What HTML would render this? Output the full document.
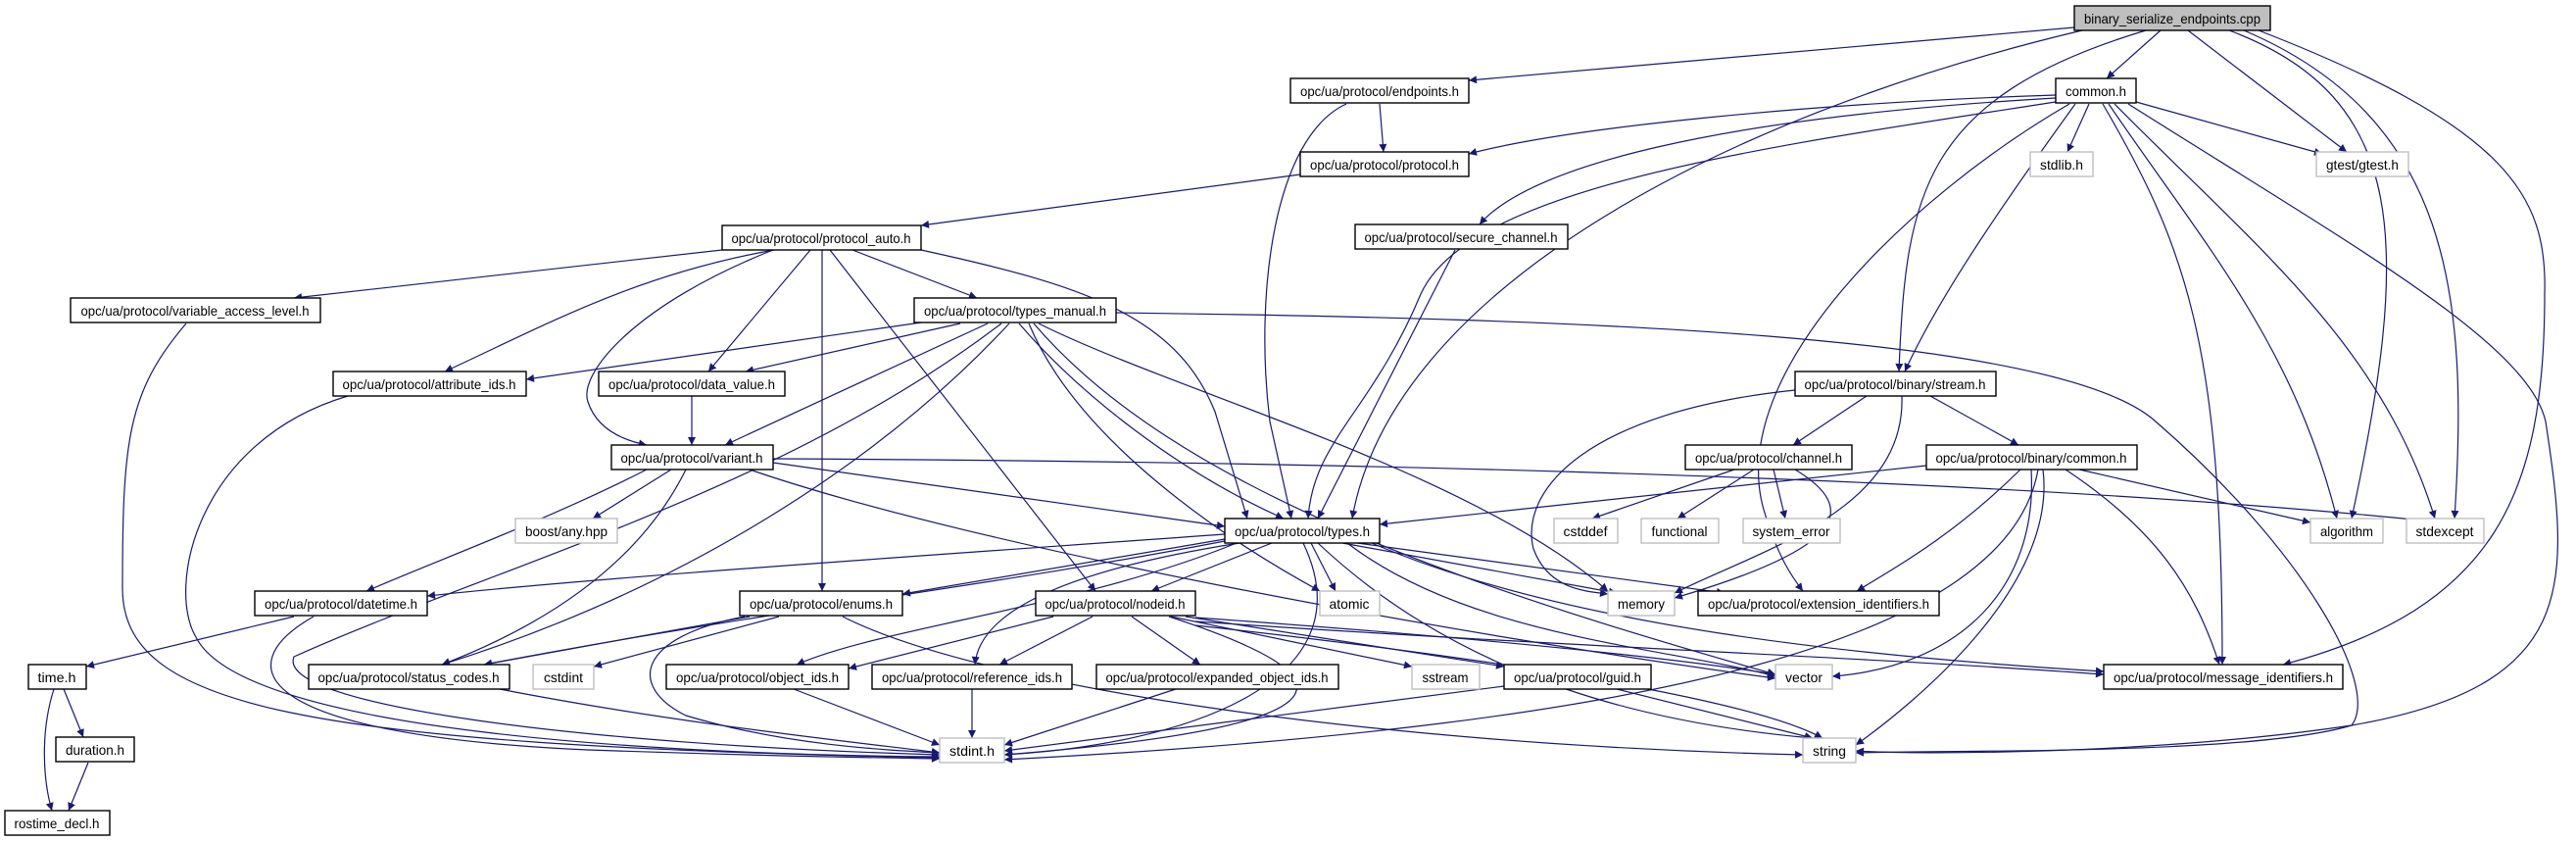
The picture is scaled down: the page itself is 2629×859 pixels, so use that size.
<!DOCTYPE html>
<html><head><meta charset="utf-8"><style>
html,body{margin:0;padding:0;background:#fff;}
svg{display:block;}
text{font-family:"Liberation Sans",sans-serif;font-size:14px;fill:#000;text-anchor:middle;}
.e{fill:none;stroke:#191970;stroke-width:1.2;marker-end:url(#a);}
.n{fill:#fff;stroke:#000;stroke-width:1.4;}
.g{fill:#fff;stroke:#bfbfbf;stroke-width:1.4;}
</style></head><body>
<svg width="2629" height="859" viewBox="0 0 2629 859" xmlns="http://www.w3.org/2000/svg">
<defs><marker id="a" viewBox="0 0 10 10" refX="10" refY="5" markerWidth="11" markerHeight="8" markerUnits="userSpaceOnUse" orient="auto"><path d="M0,0 L10,5 L0,10z" fill="#191970"/></marker></defs>
<g>
<path class="e" d="M2117 28 L1499 82"/>
<path class="e" d="M2205 31 L2150 80"/>
<path class="e" d="M2125 31 C1750 120, 1420 300, 1380 529"/>
<path class="e" d="M2190 31 C1960 100, 1945 200, 1938 379"/>
<path class="e" d="M2233 31 L2395 155"/>
<path class="e" d="M2275 31 C2460 100, 2460 250, 2400 529"/>
<path class="e" d="M2290 31 C2500 120, 2520 300, 2505 529"/>
<path class="e" d="M2305 31 C2560 130, 2600 200, 2597 300 C2597 500, 2550 620, 2330 678"/>
<path class="e" d="M2098 97 C1850 105, 1600 130, 1499 157"/>
<path class="e" d="M2098 100 C1750 120, 1560 170, 1510 229"/>
<path class="e" d="M2098 104 C1800 150, 1500 190, 1450 300 C1400 420, 1340 450, 1335 529"/>
<path class="e" d="M2112 106 C1950 200, 1760 380, 1800 520 C1815 570, 1830 590, 1840 603"/>
<path class="e" d="M2132 106 L2110 155"/>
<path class="e" d="M2180 104 L2370 157"/>
<path class="e" d="M2118 106 C2050 200, 1980 300, 1944 379"/>
<path class="e" d="M2146 106 C2230 250, 2268 350, 2268 678"/>
<path class="e" d="M2152 106 C2250 250, 2340 350, 2385 529"/>
<path class="e" d="M2158 106 C2300 250, 2430 350, 2485 529"/>
<path class="e" d="M2172 106 C2400 250, 2580 350, 2598 430 C2624 600, 2630 700, 2400 740 C2200 770, 1950 770, 1894 766"/>
<path class="e" d="M1408 106 L1412 155"/>
<path class="e" d="M1374 106 C1300 140, 1280 300, 1296 430 L1318 529"/>
<path class="e" d="M1327 178 L940 230"/>
<path class="e" d="M1485 255 L1345 529"/>
<path class="e" d="M737 255 L300 304"/>
<path class="e" d="M790 255 C650 280, 560 330, 454 379"/>
<path class="e" d="M789 255 C650 310, 590 380, 600 410 C610 440, 640 450, 660 454"/>
<path class="e" d="M827 255 L723 379"/>
<path class="e" d="M839 255 L839 603"/>
<path class="e" d="M847 255 L1118 603"/>
<path class="e" d="M870 255 L997 304"/>
<path class="e" d="M940 255 C1100 290, 1200 320, 1240 420 L1273 529"/>
<path class="e" d="M940 329 L537 387"/>
<path class="e" d="M980 330 L761 379"/>
<path class="e" d="M1008 330 L740 454"/>
<path class="e" d="M1022 330 C800 500, 500 580, 300 670 C280 720, 600 760, 959 770"/>
<path class="e" d="M1030 330 C900 470, 700 600, 451 678"/>
<path class="e" d="M1040 330 C1100 400, 1200 480, 1310 529"/>
<path class="e" d="M1050 330 C1100 450, 1250 550, 1347 603"/>
<path class="e" d="M1060 330 C1200 400, 1500 480, 1641 603"/>
<path class="e" d="M1055 330 C1200 500, 1500 600, 1812 688"/>
<path class="e" d="M1139 319 C1600 325, 2100 340, 2200 430 C2350 560, 2430 700, 2400 740 C2300 770, 2000 765, 1894 768"/>
<path class="e" d="M706 404 L706 454"/>
<path class="e" d="M355 404 C200 450, 170 600, 200 650 C250 750, 700 770, 959 772"/>
<path class="e" d="M190 330 C130 400, 125 450, 125 600 C125 720, 300 760, 959 773"/>
<path class="e" d="M685 479 L605 529"/>
<path class="e" d="M660 479 C560 530, 450 570, 374 603"/>
<path class="e" d="M700 479 C650 580, 550 640, 451 678"/>
<path class="e" d="M789 472 L1250 537"/>
<path class="e" d="M789 468 C1200 470, 2000 480, 2512 535"/>
<path class="e" d="M765 479 C1000 560, 1500 650, 1812 692"/>
<path class="e" d="M300 629 L88 680"/>
<path class="e" d="M320 629 C230 680, 260 750, 600 765 C800 772, 900 773, 959 774"/>
<path class="e" d="M1250 545 C900 570, 600 590, 436 608"/>
<path class="e" d="M765 629 L494 678"/>
<path class="e" d="M795 629 L606 680"/>
<path class="e" d="M760 629 C650 650, 640 700, 700 730 C800 760, 900 765, 959 768"/>
<path class="e" d="M860 629 C1000 700, 1400 760, 1840 770"/>
<path class="e" d="M1250 550 L921 606"/>
<path class="e" d="M1298 554 L1175 603"/>
<path class="e" d="M1250 552 C1000 600, 800 620, 494 678"/>
<path class="e" d="M1262 554 C1100 620, 900 640, 813 678"/>
<path class="e" d="M1265 554 C1100 580, 1000 620, 995 678"/>
<path class="e" d="M1338 554 L1363 603"/>
<path class="e" d="M1370 554 L1650 605"/>
<path class="e" d="M1385 554 L1760 605"/>
<path class="e" d="M1375 554 C1500 650, 1700 660, 1812 690"/>
<path class="e" d="M1345 554 C1500 700, 1700 740, 1850 753"/>
<path class="e" d="M1400 554 C1600 640, 1900 670, 2147 685"/>
<path class="e" d="M1330 554 C1400 700, 1200 760, 1025 770"/>
<path class="e" d="M1115 629 L1020 678"/>
<path class="e" d="M1075 629 L866 682"/>
<path class="e" d="M1155 629 L1225 678"/>
<path class="e" d="M1195 629 L1441 680"/>
<path class="e" d="M1210 629 L1535 680"/>
<path class="e" d="M1220 630 C1500 650, 1700 670, 1812 688"/>
<path class="e" d="M1220 634 C1600 660, 1900 670, 2147 688"/>
<path class="e" d="M1220 638 C1600 680, 1800 720, 1860 753"/>
<path class="e" d="M1193 629 C1380 690, 1400 740, 1025 770"/>
<path class="e" d="M992 703 L992 753"/>
<path class="e" d="M810 703 L959 760"/>
<path class="e" d="M1200 703 L1025 760"/>
<path class="e" d="M510 703 C700 740, 900 760, 959 768"/>
<path class="e" d="M1535 700 L1025 766"/>
<path class="e" d="M1650 703 L1850 753"/>
<path class="e" d="M65 703 L85 752"/>
<path class="e" d="M55 703 C40 750, 45 800, 53 827"/>
<path class="e" d="M90 778 L70 827"/>
<path class="e" d="M1905 404 L1830 454"/>
<path class="e" d="M1970 404 L2060 454"/>
<path class="e" d="M1941 404 C1945 520, 1800 560, 1709 605"/>
<path class="e" d="M1832 398 C1620 420, 1550 500, 1565 560 C1580 600, 1615 603, 1641 606"/>
<path class="e" d="M1770 479 L1625 529"/>
<path class="e" d="M1790 479 L1712 529"/>
<path class="e" d="M1810 479 L1822 529"/>
<path class="e" d="M1832 479 C1900 520, 1880 560, 1709 610"/>
<path class="e" d="M1966 475 L1408 535"/>
<path class="e" d="M2062 479 C2000 540, 1950 570, 1895 603"/>
<path class="e" d="M2122 479 L2358 533"/>
<path class="e" d="M2108 479 C2200 540, 2240 600, 2265 678"/>
<path class="e" d="M2073 479 C2080 600, 2000 680, 1870 690"/>
<path class="e" d="M2085 479 C2100 600, 1950 720, 1894 760"/>
<path class="e" d="M2080 479 C2050 650, 1700 740, 1025 775"/>
</g>
<g>
<rect x="2117" y="6" width="200" height="25" fill="#bfbfbf" stroke="#000" stroke-width="1.4"/><text x="2217" y="24" textLength="180" lengthAdjust="spacingAndGlyphs">binary_serialize_endpoints.cpp</text>
<rect class="n" x="1317" y="80" width="182" height="25"/><text x="1408" y="98" textLength="162" lengthAdjust="spacingAndGlyphs">opc/ua/protocol/endpoints.h</text>
<rect class="n" x="2098" y="80" width="82" height="25"/><text x="2139" y="98" textLength="62" lengthAdjust="spacingAndGlyphs">common.h</text>
<rect class="n" x="1327" y="155" width="172" height="25"/><text x="1413" y="173" textLength="152" lengthAdjust="spacingAndGlyphs">opc/ua/protocol/protocol.h</text>
<rect class="g" x="2072" y="155" width="64" height="25"/><text x="2104" y="173" textLength="44" lengthAdjust="spacingAndGlyphs">stdlib.h</text>
<rect class="g" x="2364" y="155" width="94" height="25"/><text x="2411" y="173" textLength="74" lengthAdjust="spacingAndGlyphs">gtest/gtest.h</text>
<rect class="n" x="737" y="230" width="203" height="25"/><text x="838" y="248" textLength="183" lengthAdjust="spacingAndGlyphs">opc/ua/protocol/protocol_auto.h</text>
<rect class="n" x="1383" y="229" width="217" height="25"/><text x="1491" y="247" textLength="197" lengthAdjust="spacingAndGlyphs">opc/ua/protocol/secure_channel.h</text>
<rect class="n" x="72" y="304" width="255" height="25"/><text x="199" y="322" textLength="233" lengthAdjust="spacingAndGlyphs">opc/ua/protocol/variable_access_level.h</text>
<rect class="n" x="933" y="304" width="206" height="25"/><text x="1036" y="322" textLength="186" lengthAdjust="spacingAndGlyphs">opc/ua/protocol/types_manual.h</text>
<rect class="n" x="340" y="379" width="197" height="25"/><text x="438" y="397" textLength="177" lengthAdjust="spacingAndGlyphs">opc/ua/protocol/attribute_ids.h</text>
<rect class="n" x="611" y="379" width="190" height="25"/><text x="706" y="397" textLength="170" lengthAdjust="spacingAndGlyphs">opc/ua/protocol/data_value.h</text>
<rect class="n" x="1832" y="379" width="205" height="25"/><text x="1934" y="397" textLength="185" lengthAdjust="spacingAndGlyphs">opc/ua/protocol/binary/stream.h</text>
<rect class="n" x="624" y="454" width="165" height="25"/><text x="706" y="472" textLength="145" lengthAdjust="spacingAndGlyphs">opc/ua/protocol/variant.h</text>
<rect class="n" x="1720" y="454" width="170" height="25"/><text x="1805" y="472" textLength="150" lengthAdjust="spacingAndGlyphs">opc/ua/protocol/channel.h</text>
<rect class="n" x="1966" y="454" width="215" height="25"/><text x="2073" y="472" textLength="195" lengthAdjust="spacingAndGlyphs">opc/ua/protocol/binary/common.h</text>
<rect class="g" x="526" y="529" width="104" height="25"/><text x="578" y="547" textLength="84" lengthAdjust="spacingAndGlyphs">boost/any.hpp</text>
<rect class="n" x="1250" y="529" width="158" height="25"/><text x="1329" y="547" textLength="138" lengthAdjust="spacingAndGlyphs">opc/ua/protocol/types.h</text>
<rect class="g" x="1586" y="529" width="65" height="25"/><text x="1618" y="547" textLength="45" lengthAdjust="spacingAndGlyphs">cstddef</text>
<rect class="g" x="1675" y="529" width="79" height="25"/><text x="1714" y="547" textLength="57" lengthAdjust="spacingAndGlyphs">functional</text>
<rect class="g" x="1779" y="529" width="99" height="25"/><text x="1828" y="547" textLength="79" lengthAdjust="spacingAndGlyphs">system_error</text>
<rect class="g" x="2358" y="529" width="74" height="25"/><text x="2395" y="547" textLength="54" lengthAdjust="spacingAndGlyphs">algorithm</text>
<rect class="g" x="2456" y="529" width="79" height="25"/><text x="2495" y="547" textLength="59" lengthAdjust="spacingAndGlyphs">stdexcept</text>
<rect class="n" x="260" y="603" width="176" height="25"/><text x="348" y="621" textLength="156" lengthAdjust="spacingAndGlyphs">opc/ua/protocol/datetime.h</text>
<rect class="n" x="755" y="603" width="166" height="25"/><text x="838" y="621" textLength="146" lengthAdjust="spacingAndGlyphs">opc/ua/protocol/enums.h</text>
<rect class="n" x="1057" y="603" width="163" height="25"/><text x="1138" y="621" textLength="143" lengthAdjust="spacingAndGlyphs">opc/ua/protocol/nodeid.h</text>
<rect class="g" x="1347" y="603" width="61" height="25"/><text x="1377" y="621" textLength="41" lengthAdjust="spacingAndGlyphs">atomic</text>
<rect class="g" x="1641" y="603" width="68" height="25"/><text x="1675" y="621" textLength="48" lengthAdjust="spacingAndGlyphs">memory</text>
<rect class="n" x="1733" y="603" width="246" height="25"/><text x="1856" y="621" textLength="226" lengthAdjust="spacingAndGlyphs">opc/ua/protocol/extension_identifiers.h</text>
<rect class="n" x="29" y="678" width="59" height="25"/><text x="58" y="696" textLength="39" lengthAdjust="spacingAndGlyphs">time.h</text>
<rect class="n" x="315" y="678" width="205" height="25"/><text x="417" y="696" textLength="185" lengthAdjust="spacingAndGlyphs">opc/ua/protocol/status_codes.h</text>
<rect class="g" x="544" y="678" width="62" height="25"/><text x="575" y="696" textLength="40" lengthAdjust="spacingAndGlyphs">cstdint</text>
<rect class="n" x="680" y="678" width="186" height="25"/><text x="773" y="696" textLength="166" lengthAdjust="spacingAndGlyphs">opc/ua/protocol/object_ids.h</text>
<rect class="n" x="890" y="678" width="204" height="25"/><text x="992" y="696" textLength="184" lengthAdjust="spacingAndGlyphs">opc/ua/protocol/reference_ids.h</text>
<rect class="n" x="1119" y="678" width="247" height="25"/><text x="1242" y="696" textLength="227" lengthAdjust="spacingAndGlyphs">opc/ua/protocol/expanded_object_ids.h</text>
<rect class="g" x="1441" y="678" width="69" height="25"/><text x="1475" y="696" textLength="47" lengthAdjust="spacingAndGlyphs">sstream</text>
<rect class="n" x="1535" y="678" width="150" height="25"/><text x="1610" y="696" textLength="130" lengthAdjust="spacingAndGlyphs">opc/ua/protocol/guid.h</text>
<rect class="g" x="1812" y="678" width="58" height="25"/><text x="1841" y="696" textLength="38" lengthAdjust="spacingAndGlyphs">vector</text>
<rect class="n" x="2147" y="678" width="244" height="25"/><text x="2269" y="696" textLength="224" lengthAdjust="spacingAndGlyphs">opc/ua/protocol/message_identifiers.h</text>
<rect class="n" x="57" y="752" width="80" height="25"/><text x="97" y="770" textLength="60" lengthAdjust="spacingAndGlyphs">duration.h</text>
<rect class="g" x="959" y="753" width="66" height="25"/><text x="992" y="771" textLength="46" lengthAdjust="spacingAndGlyphs">stdint.h</text>
<rect class="g" x="1840" y="753" width="54" height="25"/><text x="1867" y="771" textLength="34" lengthAdjust="spacingAndGlyphs">string</text>
<rect class="n" x="5" y="827" width="107" height="25"/><text x="58" y="845" textLength="87" lengthAdjust="spacingAndGlyphs">rostime_decl.h</text>
</g>
</svg>
</body></html>
